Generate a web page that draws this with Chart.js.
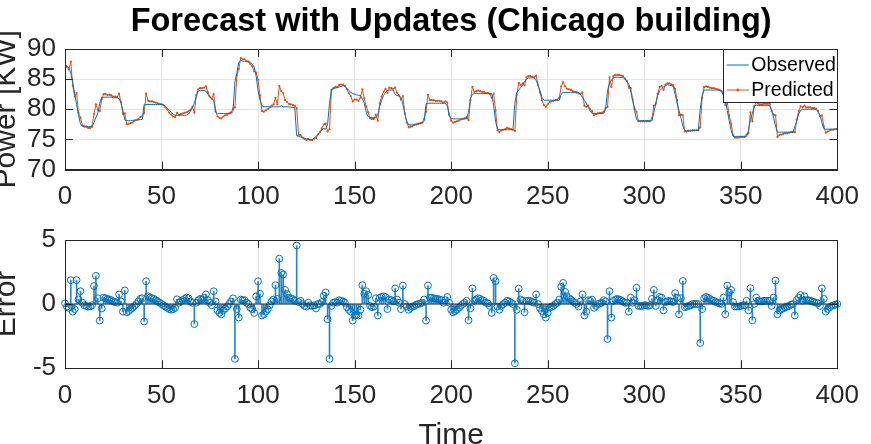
<!DOCTYPE html>
<html><head><meta charset="utf-8">
<script src="https://cdn.jsdelivr.net/npm/chart.js@4.4.1/dist/chart.umd.min.js"></script>
<style>
html,body{margin:0;padding:0;background:#fff;overflow:hidden;width:871px;height:444px;position:relative;}
#c1{position:absolute;left:0;top:0;}
#c2{position:absolute;left:0;top:215px;}
</style></head><body>
<canvas id="c1" width="871" height="222"></canvas>
<canvas id="c2" width="871" height="240"></canvas>
<script>
// ---------- data ----------
const TITLE = 'Forecast with Updates (Chicago building)';
const X_TICKS = [0, 50, 100, 150, 200, 250, 300, 350, 400];
const POWER_TICKS = [70, 75, 80, 85, 90];
const ERROR_TICKS = [-5, 0, 5];
const SERIES_LABELS = ['Observed', 'Predicted'];

const observed = [
87.3,87.2,86.9,86.0,84.5,82.5,80.8,79.0,77.6,77.2,
77.2,77.2,77.1,77.1,77.2,77.8,78.6,79.4,81.0,82.0,
82.0,82.0,82.0,82.0,82.0,81.9,81.9,81.9,81.8,81.0,
79.8,78.2,78.1,78.1,78.1,78.1,78.2,78.2,78.2,78.3,
78.3,80.8,80.8,80.8,80.8,80.8,80.8,80.8,80.8,80.8,
80.8,80.8,80.5,80.2,79.8,79.5,79.2,79.0,79.0,79.0,
79.0,79.0,79.0,79.0,79.2,79.7,80.3,81.0,82.2,83.0,
83.1,83.1,83.1,83.0,82.5,82.0,81.8,81.5,79.5,79.3,
79.3,79.3,79.3,79.3,79.3,79.3,79.3,79.6,84.6,86.0,
87.8,88.1,88.0,88.0,87.9,87.9,87.8,87.5,87.0,85.5,
83.1,81.5,80.6,80.4,80.4,80.4,80.4,80.4,80.4,80.4,
80.4,80.4,80.6,80.4,80.4,80.4,80.4,80.3,80.3,80.3,
75.6,75.5,75.4,75.3,75.2,75.1,75.0,75.0,75.0,75.2,
75.5,75.8,76.2,76.6,76.8,76.7,77.5,81.0,83.3,83.4,
83.5,83.6,83.7,83.8,83.9,83.8,83.5,83.1,82.8,82.6,
82.5,82.4,82.3,82.3,81.8,81.0,79.5,78.8,78.6,78.6,
78.6,78.6,79.0,80.5,81.5,82.3,82.8,83.1,83.2,83.2,
83.2,82.4,82.3,82.2,82.0,80.8,79.3,78.0,77.4,77.4,
77.4,77.5,77.5,77.6,77.6,77.7,78.0,80.9,81.0,81.0,
81.0,81.0,81.0,81.0,81.0,81.0,81.0,81.0,80.5,79.0,
78.5,78.4,78.4,78.4,78.4,78.4,78.4,78.4,78.4,79.5,
81.8,82.5,82.6,82.6,82.6,82.6,82.6,82.6,82.6,82.6,
82.6,82.6,80.6,78.0,76.7,76.6,76.6,76.6,76.6,76.6,
76.6,76.6,76.6,81.0,82.8,83.2,83.6,84.0,84.6,85.0,
85.2,85.2,85.2,85.2,84.8,84.0,83.1,82.0,81.5,81.5,
81.5,81.5,81.5,81.5,81.5,81.5,81.5,82.5,82.8,82.8,
82.8,82.8,82.8,82.8,82.8,82.8,82.8,82.4,82.0,81.5,
81.0,80.3,79.7,79.3,79.3,79.3,79.3,79.3,79.3,79.3,
80.0,83.1,84.3,84.8,85.2,85.3,85.3,85.3,85.3,85.3,
85.0,84.6,84.2,83.0,81.5,79.8,78.3,78.1,78.1,78.1,
78.1,78.1,78.1,78.1,78.1,79.5,81.0,82.3,83.1,83.4,
83.7,83.9,84.1,84.0,83.9,83.8,82.5,81.0,79.8,78.6,
77.2,76.5,76.5,76.5,76.5,76.5,76.5,76.5,76.5,80.0,
82.3,83.2,83.2,83.2,83.2,83.2,83.2,83.2,83.2,83.1,
83.0,82.3,81.5,79.8,78.1,76.5,75.5,75.5,75.5,75.5,
75.5,75.5,75.5,75.5,76.5,78.3,79.3,80.5,80.7,80.6,
80.6,80.6,80.6,80.6,80.6,80.6,79.8,78.6,77.2,76.2,
76.2,76.2,76.2,76.2,76.2,76.2,76.2,76.2,77.1,78.0,
79.2,79.8,80.0,80.0,80.0,80.0,80.0,80.0,80.0,80.0,
79.6,79.0,77.8,76.8,76.7,76.7,76.7,76.7,76.7,76.7,76.7
];

const predicted = [
87.4,87.0,86.6,87.9,83.9,82.1,82.7,79.4,78.6,77.3,
77.1,77.1,76.9,76.9,77.1,79.2,80.8,79.9,79.7,81.7,
82.5,82.5,82.4,82.4,82.3,82.1,82.1,82.0,82.6,81.2,
79.2,79.3,77.5,77.6,77.7,77.8,78.1,78.2,78.4,78.7,
78.8,79.4,82.6,81.4,81.3,81.3,81.2,81.1,81.0,80.9,
80.8,80.7,80.3,79.9,79.4,79.1,78.8,78.7,79.4,79.1,
79.2,79.3,79.4,79.5,79.7,79.9,80.4,79.4,82.3,83.3,
83.5,83.5,83.6,83.8,82.8,82.1,81.7,82.5,79.7,78.8,
78.6,78.5,78.8,79.0,79.1,79.3,79.5,80.1,80.3,85.6,
86.7,88.5,88.3,88.3,88.0,87.9,87.5,87.1,86.3,86.1,
84.9,82.3,79.7,79.6,79.8,80.0,80.3,80.6,80.8,81.9,
80.8,83.9,83.0,82.7,81.5,81.2,80.9,80.8,80.7,80.6,
80.2,75.7,75.7,75.3,75.1,74.9,75.1,74.9,74.9,75.1,
75.2,75.8,76.2,76.8,77.5,77.6,76.3,76.7,83.2,83.5,
83.7,83.7,84.0,84.1,84.1,83.9,83.3,82.7,82.2,81.3,
81.6,81.6,81.4,81.9,83.3,81.8,80.5,79.5,78.5,78.4,
78.4,79.1,78.1,81.0,82.1,82.9,83.4,82.7,83.6,83.5,
83.4,83.6,82.7,82.3,81.6,82.2,79.3,77.8,77.0,77.1,
77.2,77.4,77.5,77.6,77.7,77.8,78.4,79.6,82.4,81.5,
81.5,81.5,81.4,81.4,81.4,81.3,81.1,81.3,81.1,79.1,
78.1,77.8,77.9,78.0,78.1,78.3,78.4,78.5,78.7,78.2,
81.5,83.7,82.9,83.0,83.1,83.0,82.9,82.9,82.7,82.7,
82.5,81.9,82.6,79.8,76.5,76.2,76.5,76.6,76.7,76.9,
76.8,76.7,76.6,76.4,82.4,84.4,84.0,84.3,84.0,85.3,
85.5,85.5,85.4,85.3,85.6,84.0,82.8,81.5,80.7,80.4,
80.8,81.2,81.3,81.4,81.5,81.6,81.9,83.8,84.5,83.8,
83.4,83.3,83.2,83.0,82.9,82.8,82.6,82.6,82.8,80.6,
80.4,80.6,80.0,79.7,79.0,79.2,79.3,79.4,79.4,79.6,
80.2,80.4,85.3,83.7,85.5,85.7,85.7,85.7,85.6,85.5,
85.1,84.7,83.6,83.5,81.6,80.1,79.6,78.0,78.0,78.0,
78.0,78.0,78.0,78.0,78.5,80.6,80.9,82.6,83.7,83.9,
83.2,84.1,84.3,84.3,84.1,84.0,83.4,81.5,79.0,79.1,
79.0,76.3,76.3,76.4,76.4,76.5,76.5,76.5,76.5,77.0,
81.9,83.7,83.8,83.7,83.6,83.5,83.5,83.4,83.3,83.2,
83.0,82.8,80.7,81.2,79.0,77.6,75.7,75.3,75.3,75.3,
75.4,75.4,75.4,75.8,76.0,79.5,78.0,80.5,81.2,80.9,
80.8,80.8,80.9,80.9,80.9,80.9,79.7,79.1,79.0,75.4,
75.7,75.8,75.9,76.0,76.0,76.1,76.2,76.2,76.2,78.3,
79.7,80.5,80.3,80.6,80.3,80.3,80.3,80.2,80.2,80.1,
79.7,78.9,79.0,77.2,76.1,76.3,76.5,76.6,76.6,76.7,76.7
];

const errors = [
0.05,-0.2,-0.3,1.86,-0.6,-0.4,1.86,0.36,1.0,0.1,
-0.1,-0.15,-0.2,-0.2,-0.1,1.4,2.2,0.45,-1.3,-0.35,
0.5,0.45,0.4,0.35,0.3,0.2,0.15,0.1,0.75,0.2,
-0.6,1.06,-0.65,-0.55,-0.4,-0.3,-0.15,0.0,0.2,0.4,
0.45,-1.37,1.78,0.6,0.5,0.45,0.4,0.3,0.2,0.1,
0.0,-0.1,-0.2,-0.3,-0.4,-0.45,-0.4,-0.3,0.37,0.1,
0.2,0.3,0.4,0.5,0.45,0.2,0.1,-1.57,0.1,0.3,
0.4,0.35,0.5,0.75,0.3,0.1,-0.1,1.0,0.2,-0.5,
-0.7,-0.8,-0.5,-0.35,-0.2,0.0,0.2,0.45,-4.29,-0.4,
-1.06,0.35,0.3,0.3,0.1,0.0,-0.3,-0.4,-0.7,0.6,
1.78,0.8,-0.9,-0.8,-0.6,-0.4,-0.1,0.2,0.35,1.47,
0.4,3.54,2.43,2.3,1.1,0.77,0.5,0.45,0.38,0.25,
4.57,0.15,0.25,0.0,-0.15,-0.2,0.1,-0.1,-0.15,-0.1,
-0.35,0.0,0.0,0.15,0.65,0.9,-1.19,-4.29,-0.15,0.1,
0.15,0.1,0.3,0.25,0.2,0.1,-0.25,-0.45,-0.6,-1.3,
-0.9,-0.85,-0.9,-0.45,1.47,0.8,1.0,0.7,-0.15,-0.25,
-0.2,0.45,-0.9,0.5,0.55,0.6,0.55,-0.4,0.35,0.3,
0.2,1.22,0.35,0.1,-0.4,1.44,0.0,-0.2,-0.45,-0.3,
-0.2,-0.15,-0.05,0.0,0.05,0.1,0.35,-1.3,1.44,0.5,
0.5,0.45,0.4,0.4,0.35,0.3,0.1,0.3,0.55,0.1,
-0.45,-0.65,-0.55,-0.45,-0.3,-0.15,0.0,0.1,0.25,-1.27,
-0.35,1.22,0.25,0.35,0.45,0.4,0.3,0.25,0.1,0.05,
-0.15,-0.7,2.04,1.78,-0.2,-0.45,-0.15,0.0,0.1,0.25,
0.2,0.1,0.0,-4.63,-0.45,1.2,0.35,0.25,-0.65,0.25,
0.25,0.25,0.15,0.1,0.75,0.0,-0.3,-0.55,-0.8,-1.06,
-0.7,-0.3,-0.2,-0.15,0.0,0.1,0.35,1.34,1.65,0.95,
0.6,0.45,0.35,0.2,0.1,0.0,-0.2,0.2,0.75,-0.9,
-0.6,0.3,0.25,0.35,-0.3,-0.15,0.0,0.05,0.1,0.3,
0.2,-2.74,1.0,-1.06,0.25,0.35,0.4,0.35,0.3,0.2,
0.1,0.1,-0.6,0.5,0.1,0.3,1.27,-0.15,-0.15,-0.15,
-0.1,-0.1,-0.15,-0.1,0.4,1.1,-0.15,0.3,0.55,0.5,
-0.5,0.15,0.2,0.25,0.2,0.15,0.85,0.5,-0.8,0.45,
1.8,-0.25,-0.2,-0.15,-0.1,0.0,0.0,0.0,0.0,-3.05,
-0.4,0.45,0.55,0.5,0.4,0.3,0.25,0.15,0.1,0.05,
0.0,0.5,-0.8,1.44,0.9,1.1,0.15,-0.2,-0.2,-0.2,
-0.15,-0.1,-0.1,0.25,-0.5,1.24,-1.27,0.0,0.5,0.25,
0.2,0.2,0.25,0.25,0.25,0.25,-0.15,0.5,1.83,-0.8,
-0.5,-0.4,-0.35,-0.25,-0.2,-0.15,-0.05,0.0,-0.9,0.3,
0.5,0.7,0.25,0.6,0.3,0.3,0.25,0.2,0.15,0.1,
0.05,-0.15,1.22,0.4,-0.6,-0.4,-0.25,-0.15,-0.1,-0.05,0.0
];

// sample index (time steps 0..400)
const timeIdx = observed.map((_, i) => i);

// ---------- styles ----------
const BLUE = '#0072BD';
const ORANGE = '#D95319';
const AXIS = '#262626';
const GRID = '#e3e3e3';
const FAMILY = '"Liberation Sans", Arial, Helvetica, sans-serif';
const TICK_FONT = { family: FAMILY, size: 26, lineHeight: 1.2 };
const LABEL_FONT = { family: FAMILY, size: 30, lineHeight: 1 };

const matlabAxes = {
  id: 'matlabAxes',
  afterDraw(chart) {
    const { ctx, chartArea: a, scales } = chart;
    const x = scales.x, y = scales.y;
    const L = 7.8;
    ctx.save();
    ctx.strokeStyle = AXIS;
    ctx.lineWidth = 1;
    ctx.beginPath();
    x.ticks.forEach(t => {
      const p = Math.round(x.getPixelForValue(t.value)) + 0.5;
      ctx.moveTo(p, a.bottom); ctx.lineTo(p, a.bottom - L);
      ctx.moveTo(p, a.top); ctx.lineTo(p, a.top + L);
    });
    y.ticks.forEach(t => {
      const p = Math.round(y.getPixelForValue(t.value)) + 0.5;
      ctx.moveTo(a.left, p); ctx.lineTo(a.left + L, p);
      ctx.moveTo(a.right, p); ctx.lineTo(a.right - L, p);
    });
    ctx.stroke();
    ctx.strokeRect(Math.round(a.left) + 0.5, Math.round(a.top) + 0.5,
                   Math.round(a.right - a.left), Math.round(a.bottom - a.top));
    ctx.restore();
  }
};

const boxLegend = {
  id: 'boxLegend',
  afterDraw(chart) {
    const { ctx, chartArea: a } = chart;
    const w = 114, h = 53;
    const left = a.right - w, top = a.top;
    ctx.save();
    ctx.fillStyle = '#fff';
    ctx.fillRect(left, top, w, h);
    ctx.strokeStyle = AXIS;
    ctx.lineWidth = 1;
    ctx.strokeRect(Math.round(left) + 0.5, Math.round(top) + 0.5, w, h);
    ctx.font = '19.5px ' + FAMILY;
    ctx.textBaseline = 'middle';
    ctx.fillStyle = '#000';
    chart.data.datasets.forEach((ds, i) => {
      const cy = top + 15.5 + i * 25;
      ctx.strokeStyle = ds.borderColor;
      ctx.lineWidth = 1;
      ctx.beginPath();
      ctx.moveTo(left + 3.5, cy + 0.5); ctx.lineTo(left + 25.5, cy + 0.5);
      ctx.stroke();
      if (ds.pointRadius > 0) {
        ctx.fillStyle = ds.borderColor;
        ctx.beginPath(); ctx.arc(left + 14.5, cy + 0.5, 1.4, 0, Math.PI * 2); ctx.fill();
      }
      ctx.fillStyle = '#000';
      ctx.fillText(ds.label, left + 28, cy + 1);
    });
    ctx.restore();
  }
};

function tickSetter(list) { return s => { s.ticks = list.map(v => ({ value: v })); }; }

// ---------- chart 1: power ----------
new Chart(document.getElementById('c1'), {
  type: 'line',
  data: {
    datasets: [
      { label: SERIES_LABELS[0], data: timeIdx.map((t, i) => ({ x: t, y: observed[i] })),
        borderColor: BLUE, borderWidth: 1, pointRadius: 0, tension: 0, fill: false },
      { label: SERIES_LABELS[1], data: timeIdx.map((t, i) => ({ x: t, y: predicted[i] })),
        borderColor: ORANGE, borderWidth: 1, pointRadius: 1.1, pointBorderWidth: 0,
        pointBackgroundColor: ORANGE, tension: 0, fill: false }
    ]
  },
  options: {
    responsive: false, animation: false, devicePixelRatio: 1,
    layout: { padding: { left: 0, right: 29, top: 0, bottom: 0 } },
    plugins: {
      legend: { display: false }, tooltip: { enabled: false },
      title: { display: true, text: TITLE, fullSize: false, color: '#000',
               font: { family: FAMILY, size: 32.5, weight: 'bold', lineHeight: 1.2 },
               padding: { top: 3, bottom: 7 } }
    },
    scales: {
      x: { type: 'linear', min: 0, max: 400, afterBuildTicks: tickSetter(X_TICKS),
           ticks: { font: TICK_FONT, color: AXIS, padding: 12, maxRotation: 0, autoSkip: false },
           grid: { color: GRID, drawTicks: false }, border: { color: AXIS },
           afterFit: s => { s.height = 52.5; } },
      y: { type: 'linear', min: 70, max: 90, afterBuildTicks: tickSetter(POWER_TICKS),
           ticks: { font: TICK_FONT, color: AXIS, padding: 9, autoSkip: false },
           grid: { color: GRID, drawTicks: false }, border: { color: AXIS },
           title: { display: true, text: 'Power [KW]', font: LABEL_FONT, color: AXIS, padding: { top: -8.4, bottom: 0 } },
           afterFit: s => { s.width = 65; } }
    }
  },
  plugins: [matlabAxes, boxLegend]
});

// ---------- chart 2: error stems ----------
new Chart(document.getElementById('c2'), {
  type: 'bar',
  data: {
    datasets: [
      { type: 'line', label: 'baseline', data: [{ x: X_TICKS[0], y: 0 }, { x: X_TICKS[X_TICKS.length - 1], y: 0 }],
        borderColor: AXIS, borderWidth: 1, pointRadius: 0, order: 0 },
      { type: 'line', label: 'Error markers', data: timeIdx.map((t, i) => ({ x: t, y: errors[i] })),
        showLine: false, pointRadius: 3.4, pointBorderWidth: 1, pointBorderColor: BLUE,
        pointBackgroundColor: 'rgba(255,255,255,0)', borderColor: BLUE, clip: false, order: 1 },
      { type: 'bar', label: 'Error', data: timeIdx.map((t, i) => ({ x: t, y: errors[i] })),
        backgroundColor: 'rgba(0,114,189,0.85)', borderWidth: 0, barThickness: 1, order: 2 }
    ]
  },
  options: {
    responsive: false, animation: false, devicePixelRatio: 1,
    layout: { padding: { left: 0, right: 29, top: 25, bottom: 0 } },
    plugins: { legend: { display: false }, tooltip: { enabled: false } },
    scales: {
      x: { type: 'linear', min: 0, max: 400, offset: false, afterBuildTicks: tickSetter(X_TICKS),
           ticks: { font: TICK_FONT, color: AXIS, padding: 12, maxRotation: 0, autoSkip: false },
           grid: { color: GRID, drawTicks: false, offset: false }, border: { color: AXIS },
           title: { display: true, text: 'Time', font: LABEL_FONT, color: AXIS, padding: { top: 0, bottom: 4 } },
           afterFit: s => { s.height = 87; } },
      y: { type: 'linear', min: -5, max: 5, afterBuildTicks: tickSetter(ERROR_TICKS),
           ticks: { font: TICK_FONT, color: AXIS, padding: 9, autoSkip: false },
           grid: { color: GRID, drawTicks: false }, border: { color: AXIS },
           title: { display: true, text: 'Error', font: LABEL_FONT, color: AXIS, padding: { top: -8.4, bottom: 0 } },
           afterFit: s => { s.width = 65; } }
    }
  },
  plugins: [matlabAxes]
});
</script>
</body></html>
